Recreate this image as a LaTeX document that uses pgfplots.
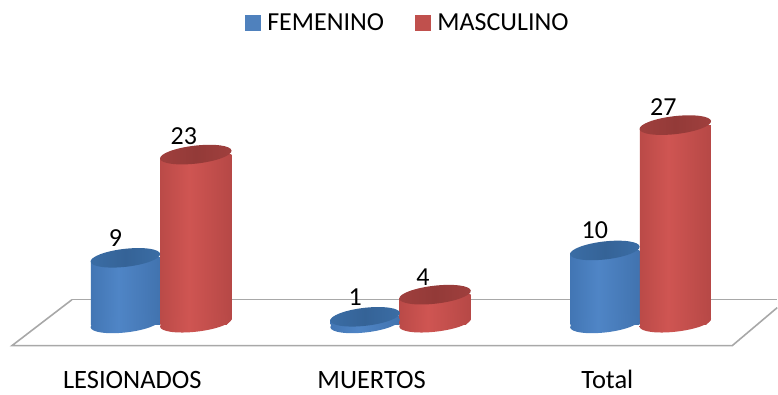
\documentclass[border=0pt]{standalone}
\usepackage{fontspec}
\setmainfont{Carlito}
\usepackage{pgfplots}
\usepackage{pgfplotstable}
\usetikzlibrary{shapes.geometric}
\pgfplotsset{compat=1.18}
\definecolor{legblue}{HTML}{4F81BD}
\definecolor{legred}{HTML}{C0504D}
\definecolor{floorgray}{HTML}{A8A8A8}
\definecolor{bsA}{HTML}{2A5790}\definecolor{bsB}{HTML}{3A6CA8}\definecolor{bsC}{HTML}{4F85C6}\definecolor{bsD}{HTML}{3F70AB}\definecolor{bsE}{HTML}{2B558A}
\definecolor{rsA}{HTML}{843130}\definecolor{rsB}{HTML}{AD4341}\definecolor{rsC}{HTML}{CF5552}\definecolor{rsD}{HTML}{B24644}\definecolor{rsE}{HTML}{7E2F2D}
\pgfdeclarehorizontalshading{blueside}{100bp}{color(0bp)=(bsA); color(12bp)=(bsB); color(45bp)=(bsC); color(80bp)=(bsD); color(100bp)=(bsE)}
\pgfdeclarehorizontalshading{redside}{100bp}{color(0bp)=(rsA); color(12bp)=(rsB); color(45bp)=(rsC); color(80bp)=(rsD); color(100bp)=(rsE)}
\definecolor{btA}{HTML}{4077B3}\definecolor{btB}{HTML}{356397}
\definecolor{rtA}{HTML}{AC4543}\definecolor{rtB}{HTML}{933A38}
\pgfdeclarehorizontalshading{bluetop}{100bp}{color(0bp)=(btA); color(50bp)=(btB); color(100bp)=(btA)}
\pgfdeclarehorizontalshading{redtop}{100bp}{color(0bp)=(rtA); color(50bp)=(rtB); color(100bp)=(rtA)}
\tikzset{cap/.style 2 args={ellipse, draw=none, inner sep=0pt, anchor=center, minimum width=#1, minimum height=18pt, rotate=6.5, shade, shading=#2}}
\pgfdeclareplotmark{cornerTL}{\pgfpathmoveto{\pgfpoint{-37pt}{0.6pt}}\pgfpathlineto{\pgfpoint{-37pt}{-4.5pt}}\pgfpathlineto{\pgfpoint{-31pt}{0.6pt}}\pgfpathclose\pgfusepathqfill}
\pgfdeclareplotmark{cornerBR}{\pgfpathmoveto{\pgfpoint{37pt}{-0.6pt}}\pgfpathlineto{\pgfpoint{37pt}{5.5pt}}\pgfpathlineto{\pgfpoint{31pt}{-0.6pt}}\pgfpathclose\pgfusepathqfill}
\pgfplotstableread{
x v
125.5 9
365.5 1
605.5 10
}\femenino
\pgfplotstableread{
x v
196 23
435.5 4
676 27
}\masculino
\pgfplotsset{
  bluebody/.style={forget plot, ybar, bar width=69pt, bar shift=0pt, draw=none, shade, shading=blueside},
  redbody/.style={forget plot, ybar, bar width=71pt, bar shift=0pt, draw=none, shade, shading=redside},
}
\begin{document}
\begin{tikzpicture}
\begin{axis}[
  scale only axis, width=778pt, height=395pt,
  xmin=0, xmax=778, ymin=-9.553, ymax=43.97,
  clip=false,
  axis line style={draw=none},
  tick style={draw=none},
  ytick=\empty,
  xtick={132.5,372,608},
  xticklabels={LESIONADOS,MUERTOS,Total},
  xticklabel style={anchor=center, yshift=15pt, font=\fontsize{26.5}{30}\selectfont},
  /pgf/number format/assume math mode=true,
  legend style={at={(245/778,1-11/395)}, anchor=north west, draw=none, fill=none,
    font=\fontsize{26}{30}\selectfont, legend columns=2, inner sep=0pt,
    /tikz/every odd column/.append style={column sep=5pt},
    /tikz/every even column/.append style={column sep=29pt}},
  legend cell align=left,
]
\addplot[forget plot, floorgray, line width=1.6pt] coordinates {(72,3.32) (778,3.32)};
\addplot[forget plot, floorgray, line width=1.6pt, line join=miter] coordinates {(72,3.32) (12,-2.91) (733,-2.91) (778,2.24)};
% femenino
\addplot[bluebody] coordinates {(125.5,9)};
\addplot[bluebody] coordinates {(365.5,1)};
\addplot[bluebody] coordinates {(605.5,10)};
\addplot[forget plot, only marks, mark=cornerTL, mark options={fill=white, draw=none}] table[x=x,y=v] {\femenino};
\addplot[forget plot, draw=none, mark=none, nodes near coords={}, nodes near coords style={cap={70pt}{blueside}}] table[x=x,y expr=0.1] {\femenino};
\addplot[forget plot, draw=none, mark=none, nodes near coords={}, nodes near coords style={cap={70pt}{bluetop}}] table[x=x,y=v] {\femenino};
% masculino
\addplot[redbody] coordinates {(196,23)};
\addplot[redbody] coordinates {(435.5,4)};
\addplot[redbody] coordinates {(676,27)};
\addplot[forget plot, only marks, mark=cornerBR, mark options={fill=white, draw=none}] table[x=x,y expr=0] {\masculino};
\addplot[forget plot, only marks, mark=cornerTL, mark options={fill=white, draw=none}] table[x=x,y=v] {\masculino};
\addplot[forget plot, draw=none, mark=none, nodes near coords={}, nodes near coords style={cap={72pt}{redside}}] table[x=x,y expr=0.2] {\masculino};
\addplot[forget plot, draw=none, mark=none, nodes near coords={}, nodes near coords style={cap={72pt}{redtop}}] table[x=x,y=v] {\masculino};
% labels
\addplot[forget plot, draw=none, mark=none, nodes near coords, nodes near coords style={anchor=center, xshift=-10pt, yshift=20pt, font=\fontsize{26}{30}\selectfont, text=black}] table[x=x,y=v] {\femenino};
\addplot[forget plot, draw=none, mark=none, nodes near coords, nodes near coords style={anchor=center, xshift=-12pt, yshift=18pt, font=\fontsize{26}{30}\selectfont, text=black}] table[x=x,y=v] {\masculino};
\addlegendimage{legend image code/.code={\fill[legblue] (0pt,-7.5pt) rectangle (15pt,7.5pt);}}
\addlegendentry{FEMENINO}
\addlegendimage{legend image code/.code={\fill[legred] (0pt,-7.5pt) rectangle (15pt,7.5pt);}}
\addlegendentry{MASCULINO}
\end{axis}
\end{tikzpicture}
\end{document}
